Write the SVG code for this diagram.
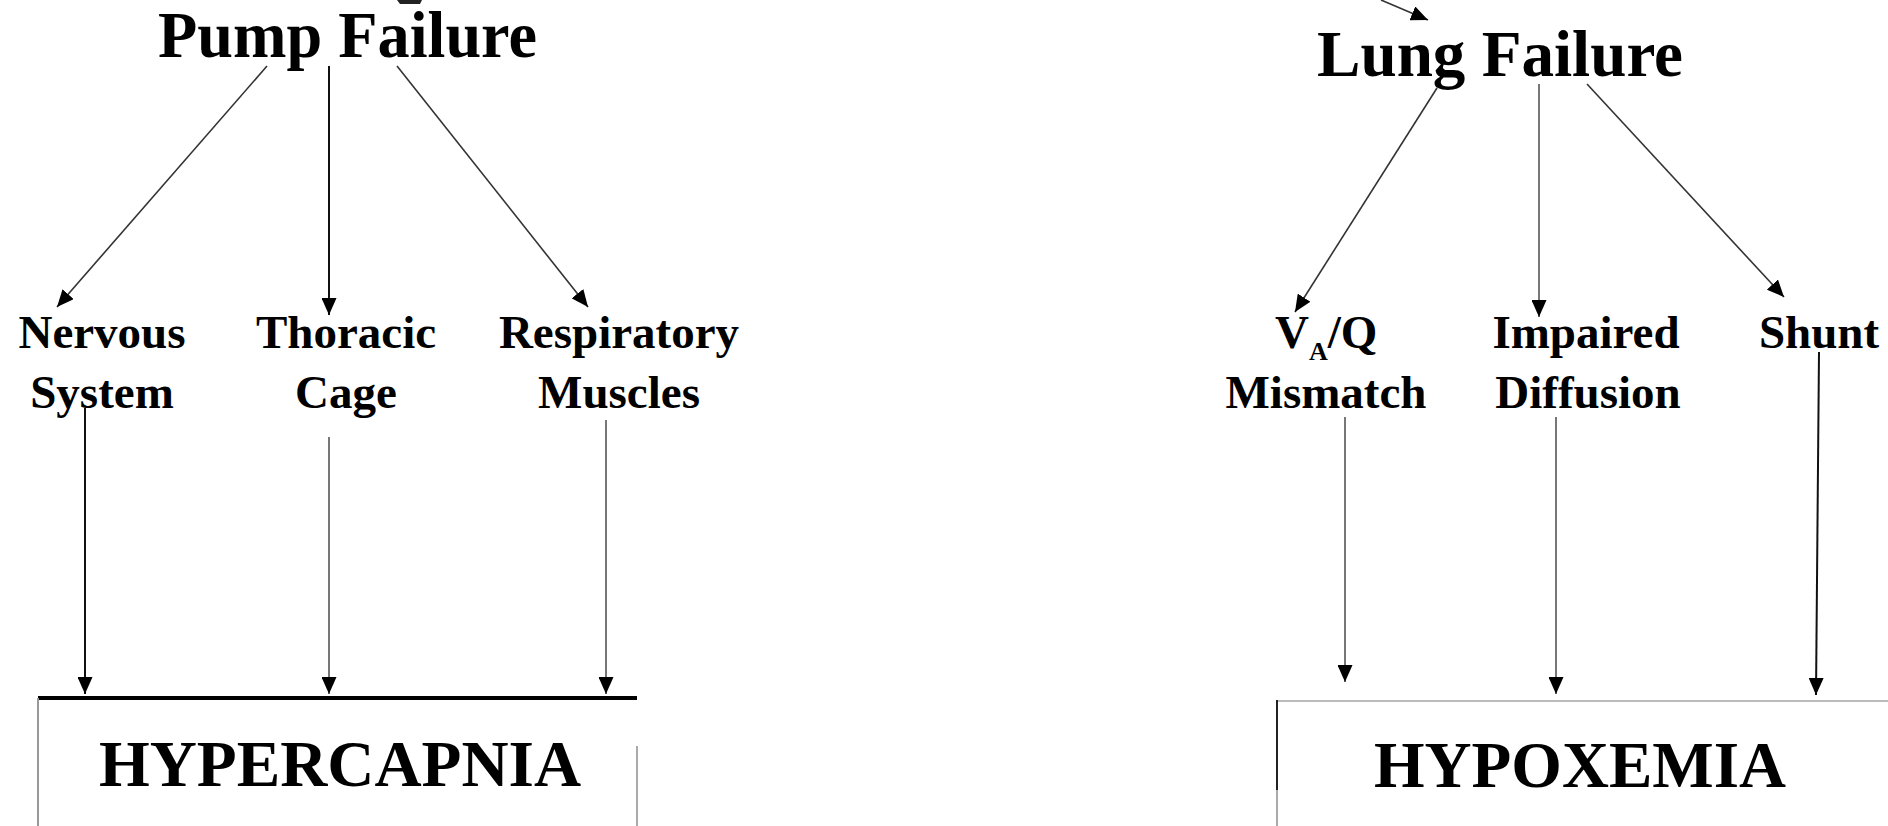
<svg xmlns="http://www.w3.org/2000/svg" width="1888" height="826" viewBox="0 0 1888 826">
<style>
  .t { font-family: "Liberation Serif", "Times New Roman", serif; font-weight: bold; fill: #000; }
  .title { font-size: 65px; }
  .lbl { font-size: 47px; text-anchor: middle; }
  .big { font-size: 65px; text-anchor: middle; }
  .diag { stroke: #333; stroke-width: 1.6; fill: none; }
  .vert { stroke: #111; stroke-width: 2; fill: none; }
  .vthin { stroke: #555; stroke-width: 1.6; fill: none; }
</style>
<defs>
  <marker id="ah" markerUnits="userSpaceOnUse" markerWidth="17" markerHeight="15" viewBox="0 0 17 15" refX="17" refY="7.5" orient="auto">
    <path d="M0,0 L17,7.5 L0,15 Z" fill="#000"/>
  </marker>
</defs>

<rect x="0" y="0" width="1888" height="826" fill="#fff"/>

<g id="connectors">
  <!-- top fragments -->
  <path d="M397,0 L422,0 L420,4 L400,4 Z" fill="#222"/>
  <line x1="1381" y1="0" x2="1428" y2="20" class="diag" marker-end="url(#ah)"/>
  <!-- pump failure branches -->
  <line x1="267" y1="66" x2="57" y2="307" class="diag" marker-end="url(#ah)"/>
  <line x1="329" y1="66" x2="329" y2="315" class="vert" marker-end="url(#ah)"/>
  <line x1="397" y1="66" x2="588" y2="307" class="diag" marker-end="url(#ah)"/>
  <!-- to hypercapnia -->
  <line x1="85" y1="408" x2="85" y2="694" class="vert" marker-end="url(#ah)"/>
  <line x1="329" y1="437" x2="329" y2="694" class="vthin" marker-end="url(#ah)"/>
  <line x1="606" y1="420" x2="606" y2="694" class="vthin" marker-end="url(#ah)"/>
  <!-- lung failure branches -->
  <line x1="1437" y1="88" x2="1295" y2="312" class="diag" marker-end="url(#ah)"/>
  <line x1="1539" y1="84" x2="1539" y2="317" class="vthin" marker-end="url(#ah)"/>
  <line x1="1587" y1="84" x2="1784" y2="297" class="diag" marker-end="url(#ah)"/>
  <!-- to hypoxemia -->
  <line x1="1345" y1="417" x2="1345" y2="682" class="vthin" marker-end="url(#ah)"/>
  <line x1="1556" y1="417" x2="1556" y2="694" class="vthin" marker-end="url(#ah)"/>
  <line x1="1819" y1="352" x2="1816" y2="695" class="vert" marker-end="url(#ah)"/>
</g>

<g id="pump-failure">
  <text class="t title" x="158" y="57" textLength="379" lengthAdjust="spacingAndGlyphs">Pump Failure</text>
</g>
<g id="lung-failure">
  <text class="t title" x="1317" y="76" textLength="366" lengthAdjust="spacingAndGlyphs">Lung Failure</text>
</g>

<g id="nervous-system">
  <text class="t lbl" x="102" y="348">Nervous</text>
  <text class="t lbl" x="102" y="408">System</text>
</g>
<g id="thoracic-cage">
  <text class="t lbl" x="346" y="348">Thoracic</text>
  <text class="t lbl" x="346" y="408">Cage</text>
</g>
<g id="respiratory-muscles">
  <text class="t lbl" x="619" y="348">Respiratory</text>
  <text class="t lbl" x="619" y="408">Muscles</text>
</g>

<g id="va-q-mismatch">
  <text class="t" x="1275" y="348" style="font-size:47px">V<tspan dy="12" style="font-size:26px">A</tspan><tspan dy="-12">/Q</tspan></text>
  <text class="t lbl" x="1326" y="408">Mismatch</text>
</g>
<g id="impaired-diffusion">
  <text class="t lbl" x="1586" y="348">Impaired</text>
  <text class="t lbl" x="1588" y="408">Diffusion</text>
</g>
<g id="shunt">
  <text class="t lbl" x="1819" y="348">Shunt</text>
</g>

<g id="hypercapnia">
  <line x1="38" y1="698" x2="637" y2="698" stroke="#000" stroke-width="4"/>
  <line x1="38" y1="698" x2="38" y2="826" stroke="#999" stroke-width="2"/>
  <line x1="637" y1="746" x2="637" y2="826" stroke="#aaa" stroke-width="2"/>
  <text class="t big" x="340" y="786" textLength="482" lengthAdjust="spacingAndGlyphs">HYPERCAPNIA</text>
</g>

<g id="hypoxemia">
  <line x1="1277" y1="701" x2="1888" y2="701" stroke="#bbb" stroke-width="2"/>
  <line x1="1277" y1="700" x2="1277" y2="790" stroke="#222" stroke-width="2"/>
  <line x1="1277" y1="790" x2="1277" y2="826" stroke="#aaa" stroke-width="2"/>
  <text class="t big" x="1580" y="787" textLength="412" lengthAdjust="spacingAndGlyphs">HYPOXEMIA</text>
</g>
</svg>
